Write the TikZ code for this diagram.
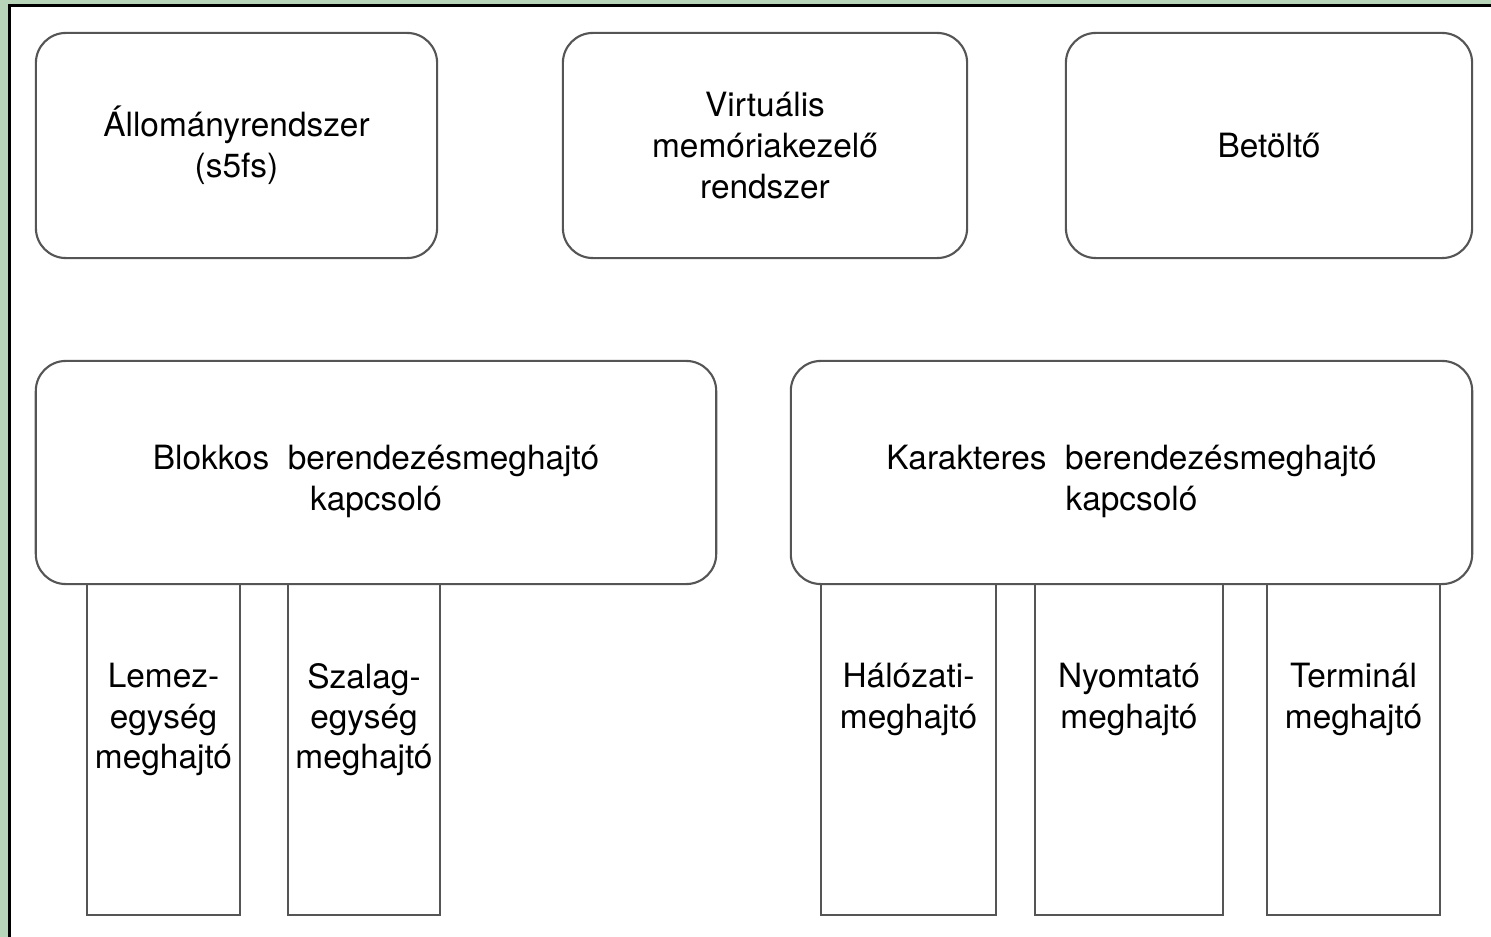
\documentclass[tikz,border=0pt]{standalone}
\usepackage{fontspec}
\setmainfont{TeX Gyre Heros}
\definecolor{framegreen}{RGB}{185,213,185}
\definecolor{edgegray}{RGB}{85,85,85}
\tikzset{
  rbox/.style={draw=edgegray, line width=0.6pt, rounded corners=0.3cm, fill=white, align=center, font=\fontsize{9.5}{11.6}\selectfont},
  drvbox/.style={draw=edgegray, line width=0.6pt, fill=white, inner sep=0pt},
  drvtext/.style={anchor=north, align=center, inner sep=0pt, font=\fontsize{9.5}{11.4}\selectfont},
  switchtext/.style={align=center, inner sep=0pt, font=\fontsize{9.5}{11.6}\selectfont}
}
\begin{document}
\begin{tikzpicture}[x=0.01cm, y=-0.01cm]
        \useasboundingbox (0,0) rectangle (1491,937);
        \fill[framegreen] (0,0) rectangle (1491,937);
        \fill[white] (10,6) rectangle (1491,937);
        \draw[black, line width=0.6pt] (9.5,937) -- (9.5,5.5) -- (1491,5.5);
        \node[rbox, minimum width=4.01cm, minimum height=2.25cm] (fs) at (236.5,145.5) {Állományrendszer\\(s5fs)};
        \node[rbox, minimum width=4.04cm, minimum height=2.25cm] (vm) at (765,145.5) {Virtuális\\memóriakezelő\\rendszer};
        \node[rbox, minimum width=4.06cm, minimum height=2.25cm] (loader) at (1269,145.5) {Betöltő};
        \node[drvbox, minimum width=1.53cm, minimum height=3.31cm] (disk) at (163.5,749.5) {};
        \node[drvbox, minimum width=1.52cm, minimum height=3.31cm] (tape) at (364,749.5) {};
        \node[drvbox, minimum width=1.75cm, minimum height=3.31cm] (net) at (908.5,749.5) {};
        \node[drvbox, minimum width=1.88cm, minimum height=3.31cm] (printer) at (1129,749.5) {};
        \node[drvbox, minimum width=1.73cm, minimum height=3.31cm] (term) at (1353.5,749.5) {};
        \node[rbox, minimum width=6.80cm, minimum height=2.23cm] (block) at (376,472.5) {};
        \node[rbox, minimum width=6.81cm, minimum height=2.23cm] (char) at (1131.5,472.5) {};
        \node[switchtext] (blocktext) at ([yshift=-0.09cm]block.center) {Blokkos\ \ berendezésmeghajtó\\kapcsoló};
        \node[switchtext] (chartext) at ([yshift=-0.09cm]char.center) {Karakteres\ \ berendezésmeghajtó\\kapcsoló};
        \node[drvtext] (disktext) at ([yshift=-0.80cm]disk.north) {Lemez-\\egység\\meghajtó};
        \node[drvtext] (tapetext) at ([yshift=-0.80cm]tape.north) {Szalag-\\egység\\meghajtó};
        \node[drvtext] (nettext) at ([yshift=-0.80cm]net.north) {Hálózati-\\meghajtó};
        \node[drvtext] (printertext) at ([yshift=-0.80cm]printer.north) {Nyomtató\\meghajtó};
        \node[drvtext] (termtext) at ([yshift=-0.80cm]term.north) {Terminál\\meghajtó};
\end{tikzpicture}
\end{document}
